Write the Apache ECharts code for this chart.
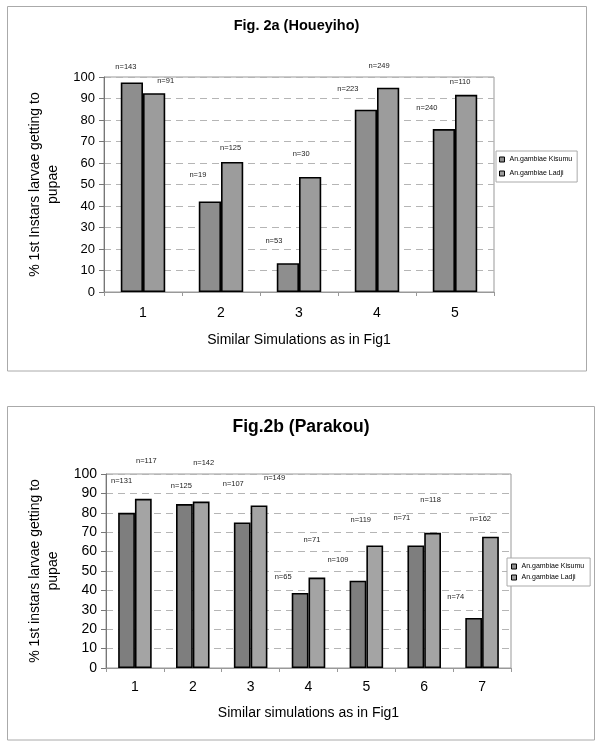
<!DOCTYPE html>
<html><head><meta charset="utf-8">
<script src="https://cdn.jsdelivr.net/npm/echarts@6/dist/echarts.min.js"></script>
<style>html,body{margin:0;padding:0;background:#fff}#c{width:600px;height:744px}</style>
</head><body><div id="c"></div>
<script>
// ---------- DATA ----------
const categoriesA = ['1', '2', '3', '4', '5'];
const kisumuA = [97.5, 42.1, 13.4, 84.8, 75.8];
const ladjiA = [92.5, 60.5, 53.5, 95.0, 91.7];
const nKisumuA = [143, 19, 53, 223, 240];
const nLadjiA = [91, 125, 30, 249, 110];

const categoriesB = ['1', '2', '3', '4', '5', '6', '7'];
const kisumuB = [80.0, 84.5, 75.0, 38.7, 45.0, 63.2, 25.8];
const ladjiB = [87.2, 85.8, 83.8, 46.6, 63.2, 69.7, 67.7];
const nKisumuB = [131, 125, 107, 65, 109, 71, 74];
const nLadjiB = [117, 142, 149, 71, 119, 118, 162];

const seriesNames = ['An.gambiae Kisumu', 'An.gambiae Ladji'];
const yMin = 0, yMax = 100, yStep = 10;

// ---------- LAYOUT (label nudges, px) ----------
const offKA = [[-6, -11.5], [-12, -22.5], [-14, -18], [-18, -16.5], [-17, -17.5]];
const offLA = [[11.5, -8], [-1.5, -10], [-9, -19], [-9, -18], [-6, -8.5]];
const offKB = [[-5, -28], [-3, -14.5], [-9, -34.5], [-17, -12], [-20, -17], [-14, -23], [-18, -17.5]];
const offLB = [[3, -34], [2.5, -34.5], [15.5, -23.5], [-5, -34], [-14, -21], [-2, -29], [-10, -14]];

const FONT = 'Liberation Sans, Arial, sans-serif';

function barSeries(name, values, ns, offs, xi, color) {
  return {
    type: 'bar', name: name, xAxisIndex: xi, yAxisIndex: xi,
    barGap: '0%', barCategoryGap: xi === 0 ? '43%' : '42%',
    itemStyle: { color: color, borderColor: '#000', borderWidth: 1.6 },
    data: values.map((v, i) => ({ value: v, label: { offset: offs[i] } })),
    label: {
      show: true, position: 'top', distance: 0,
      fontFamily: FONT, fontSize: 7.5, color: '#222',
      formatter: p => 'n=' + ns[p.dataIndex]
    }
  };
}

function yAx(gi, gap, fs) {
  return {
    type: 'value', gridIndex: gi, min: yMin, max: yMax, interval: yStep,
    name: (gi === 0 ? '% 1st Instars larvae getting to' : '% 1st instars larvae getting to') + '\npupae',
    nameLocation: 'middle', nameRotate: 90, nameGap: gap,
    nameTextStyle: { fontFamily: FONT, fontSize: 14, color: '#000', lineHeight: 18 },
    axisLine: { show: true, lineStyle: { color: '#777' } },
    axisTick: { show: true, length: 5, lineStyle: { color: '#777' } },
    axisLabel: { fontFamily: FONT, fontSize: fs, color: '#000', margin: 9 },
    splitLine: { show: true, lineStyle: { color: '#b5b5b5', type: [7, 5] } }
  };
}

function xAx(gi, cats, title, gap, margin) {
  return {
    type: 'category', gridIndex: gi, data: cats,
    name: title, nameLocation: 'middle', nameGap: gap,
    nameTextStyle: { fontFamily: FONT, fontSize: 14, color: '#000' },
    axisLine: { show: true, lineStyle: { color: '#999' } },
    axisTick: { show: true, length: 4, alignWithLabel: false, lineStyle: { color: '#999' } },
    axisLabel: { fontFamily: FONT, fontSize: 14, color: '#000', margin: margin }
  };
}

const legendCommon = {
  data: seriesNames, orient: 'vertical',
  itemWidth: 5, itemHeight: 5, icon: 'rect', borderColor: '#aaa', borderWidth: 1, backgroundColor: '#fff',
  itemStyle: { borderColor: '#000', borderWidth: 1 },
  textStyle: { fontFamily: FONT, fontSize: 7, color: '#000' }
};

const chart = echarts.init(document.getElementById('c'), null, { renderer: 'canvas' });
chart.setOption({
  animation: false,
  backgroundColor: '#fff',
  graphic: [
    { type: 'rect', shape: { x: 7.5, y: 6.5, width: 579, height: 364.5 }, style: { fill: 'none', stroke: '#aaa', lineWidth: 1 }, z: 0 },
    { type: 'rect', shape: { x: 7.5, y: 406.5, width: 587, height: 333.5 }, style: { fill: 'none', stroke: '#aaa', lineWidth: 1 }, z: 0 },
    { type: 'text', x: 296.5, y: 26, style: { text: 'Fig. 2a (Houeyiho)', fontFamily: FONT, fontWeight: 'bold', fontSize: 14.5, fill: '#000', textAlign: 'center', textVerticalAlign: 'middle' } },
    { type: 'text', x: 301, y: 427, style: { text: 'Fig.2b (Parakou)', fontFamily: FONT, fontWeight: 'bold', fontSize: 17.5, fill: '#000', textAlign: 'center', textVerticalAlign: 'middle' } }
  ],
  legend: [
    Object.assign({}, legendCommon, { left: 496, top: 151, padding: [5, 5, 5, 3], itemGap: 7 }),
    Object.assign({}, legendCommon, { left: 507, top: 558, padding: [5, 6, 5, 4], itemGap: 4 })
  ],
  grid: [
    { left: 104, top: 77, width: 390, height: 215, show: true, borderColor: '#999', borderWidth: 1, backgroundColor: '#fff' },
    { left: 106, top: 474, width: 405, height: 194, show: true, borderColor: '#999', borderWidth: 1, backgroundColor: '#fff' }
  ],
  xAxis: [
    xAx(0, categoriesA, 'Similar Simulations as in Fig1', 41, 14),
    xAx(1, categoriesB, 'Similar simulations as in Fig1', 38, 12)
  ],
  yAxis: [yAx(0, 42, 13), yAx(1, 44, 14)],
  series: [
    barSeries(seriesNames[0], kisumuA, nKisumuA, offKA, 0, '#8e8e8e'),
    barSeries(seriesNames[1], ladjiA, nLadjiA, offLA, 0, '#9c9c9c'),
    barSeries(seriesNames[0], kisumuB, nKisumuB, offKB, 1, '#7e7e7e'),
    barSeries(seriesNames[1], ladjiB, nLadjiB, offLB, 1, '#a4a4a4')
  ]
});
</script></body></html>
